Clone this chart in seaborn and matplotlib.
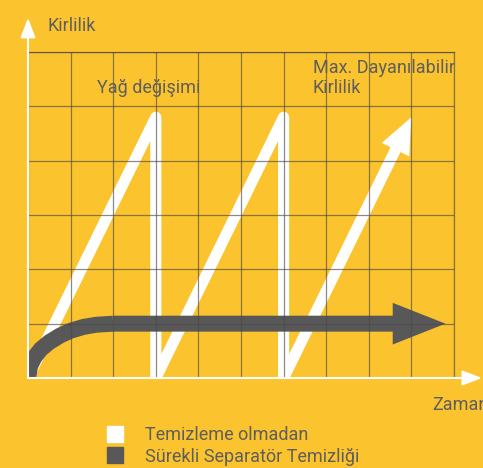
import matplotlib.pyplot as plt
import seaborn as sns
from matplotlib.lines import Line2D
from matplotlib.patches import FancyArrowPatch

# grid units: time on x, dirt level on y
time_ticks = list(range(0, 11))
level_ticks = list(range(0, 7))

# without cleaning: dirt builds up, back to zero at each oil change
no_clean_x = [0, 3, 3, 6, 6, 9]
no_clean_y = [0, 4.8, 0, 4.8, 0, 4.8]

# continuous separator cleaning: rises quickly then stays flat
separator_x = [0, 0.05, 0.15, 0.3, 0.5, 0.75, 1.0, 1.3, 1.6, 2.0, 9.8]
separator_y = [0, 0.22, 0.38, 0.53, 0.66, 0.78, 0.87, 0.94, 0.98, 1.0, 1.0]

legend_labels = ["Temizleme olmadan", "Sürekli Separatör Temizliği"]

YELLOW = "#fbc32d"
DARK = "#585858"
TEXT = "#5e5e5e"
GRID = "#4a4a4a"

sns.set_theme(style="white")
plt.rcParams["font.family"] = ["Roboto", "DejaVu Sans"]

fig = plt.figure(figsize=(4.83, 4.68), dpi=100, facecolor=YELLOW)
ax = fig.add_axes([28 / 483, 90 / 468, 426 / 483, 326 / 468])
ax.set_facecolor(YELLOW)

# white sawtooth, last rise drawn as an arrow
sns.lineplot(x=no_clean_x[:-1], y=no_clean_y[:-1], ax=ax, estimator=None,
             sort=False, color="white", lw=8, solid_joinstyle="round",
             solid_capstyle="butt")
ax.add_patch(FancyArrowPatch(
    (no_clean_x[-2], no_clean_y[-2]), (no_clean_x[-1], no_clean_y[-1]),
    arrowstyle="simple,head_length=26,head_width=22,tail_width=8",
    mutation_scale=1, shrinkA=0, shrinkB=0, color="white", lw=0, zorder=2))

# dark separator curve with arrow head
sns.lineplot(x=separator_x[:-1], y=separator_y[:-1], ax=ax, estimator=None,
             sort=False, color=DARK, lw=11.5, solid_capstyle="butt")
ax.add_patch(FancyArrowPatch(
    (separator_x[-2], separator_y[-2]), (separator_x[-1], separator_y[-1]),
    arrowstyle="simple,head_length=38,head_width=30,tail_width=11.5",
    mutation_scale=1, shrinkA=0, shrinkB=0, color=DARK, lw=0, zorder=2))

ax.set_xlim(0, 10)
ax.set_ylim(0, 6)
ax.set_xticks(time_ticks)
ax.set_yticks(level_ticks)
ax.tick_params(left=False, bottom=False, labelleft=False, labelbottom=False)
ax.grid(True, color=GRID, alpha=0.65, lw=0.9)
ax.set_axisbelow(False)
ax.set(xlabel="", ylabel="")
for side in ["left", "bottom"]:
    ax.spines[side].set_visible(False)
for side in ["top", "right"]:
    ax.spines[side].set_color(GRID)
    ax.spines[side].set_alpha(0.65)
    ax.spines[side].set_linewidth(0.9)

# axis arrows
arrow_kw = dict(arrowstyle="-|>,head_length=1.0,head_width=0.38", color="white",
                lw=1.5, shrinkA=0, shrinkB=0)
ax.annotate("", xy=(0, 6.63), xytext=(0, 0), arrowprops=arrow_kw,
            annotation_clip=False)
ax.annotate("", xy=(10.66, 0), xytext=(0, 0), arrowprops=arrow_kw,
            annotation_clip=False)

ax.text(0.45, 6.39, "Kirlilik", color=TEXT, fontsize=13, va="baseline",
        clip_on=False)
ax.text(9.48, -0.59, "Zaman", color=TEXT, fontsize=13, va="baseline",
        clip_on=False)
ax.text(1.62, 5.25, "Yağ değişimi", color=TEXT, fontsize=13, va="baseline")
ax.text(6.69, 5.25, "Max. Dayanılabilir\nKirlilik", color=TEXT, fontsize=13,
        va="baseline", linespacing=1.13)

handles = [Line2D([], [], ls="", marker="s", markersize=11.5,
                  markerfacecolor=c, markeredgecolor=c) for c in ("white", DARK)]
fig.legend(handles, legend_labels, loc="upper left",
           bbox_to_anchor=(105.5 / 483, 1 - 426 / 468), frameon=False,
           fontsize=13, handlelength=1.0, handletextpad=1.2, labelspacing=0.2,
           borderpad=0, borderaxespad=0, labelcolor=TEXT)

fig.savefig("out.png", dpi=100, facecolor=YELLOW)
